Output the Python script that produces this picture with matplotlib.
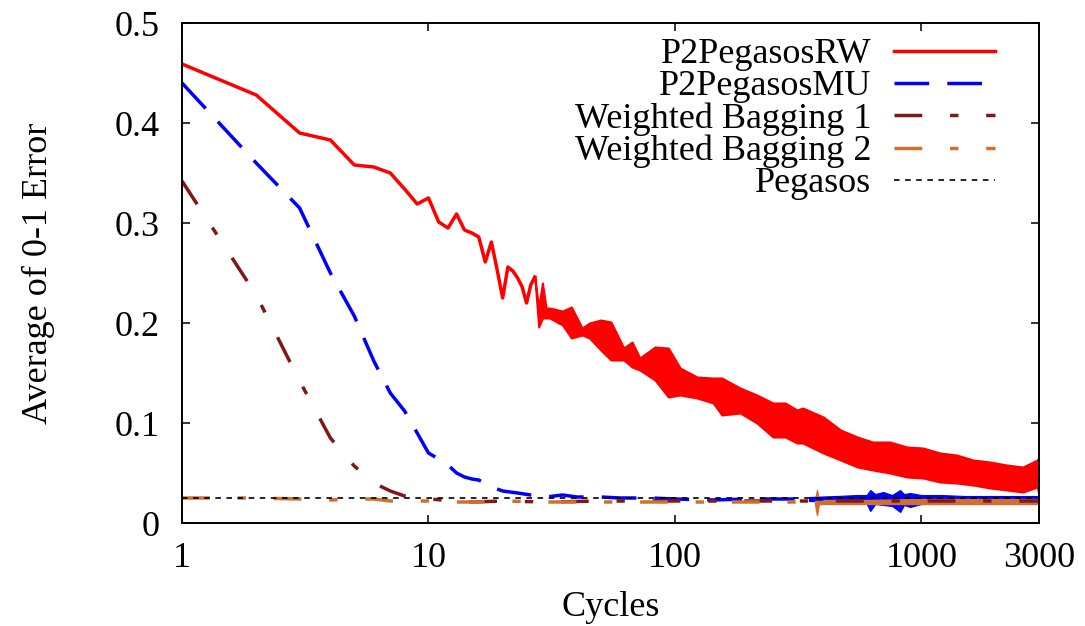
import numpy as np
import matplotlib
matplotlib.use('Agg')
import matplotlib.pyplot as plt
from matplotlib.ticker import FixedLocator, NullLocator

# P2PegasosRW: single curve for the first cycles, then a noisy band (lower/upper edge)
rw_cycles = [1, 2, 3, 4, 5, 6, 7, 8, 9, 10, 11, 12, 13, 14, 15, 16, 17, 18, 19, 20,
             21, 22, 23, 24, 25, 26, 27]
rw_err = [.459, .428, .390, .383, .358, .356, .350, .334, .319, .325, .301, .295, .309,
          .293, .290, .286, .261, .281, .253, .225, .256, .252, .245, .236, .220, .238, .246]
rw_band_cycles = [27, 28, 29, 30, 31, 35, 38, 42, 45, 50, 55, 62, 67, 72, 83, 94, 105, 123,
                  143, 155, 184, 215, 250, 280, 313, 330, 400, 470, 550, 635, 745, 875,
                  1015, 1190, 1390, 1620, 1900, 2220, 2580, 2950, 3000]
rw_band_lo = [.246, .196, .205, .205, .205, .198, .185, .188, .185, .173, .163, .163, .156,
              .153, .143, .126, .128, .125, .120, .108, .110, .100, .086, .086, .080, .080,
              .070, .063, .056, .053, .050, .046, .045, .041, .040, .038, .035, .033, .031,
              .036, .028]
rw_band_hi = [.246, .215, .240, .215, .215, .212, .216, .195, .200, .203, .201, .175, .181,
              .165, .176, .175, .155, .146, .145, .145, .135, .128, .120, .120, .113, .115,
              .106, .093, .086, .081, .081, .076, .075, .070, .068, .063, .061, .058, .056,
              .063, .066]

# P2PegasosMU
mu_cycles = [1, 2, 3, 4, 5, 6, 7, 8, 9, 10, 11, 12, 13, 14, 15, 16, 18, 20, 23, 26, 30,
             35, 40, 50, 60, 80, 100, 140, 200, 300, 400]
mu_err = [.440, .360, .315, .250, .207, .162, .130, .112, .090, .070, .064, .058, .050,
          .046, .044, .043, .036, .032, .030, .028, .026, .028, .026, .026, .025, .025,
          .024, .023, .024, .024, .024]
mu_band_cycles = [350, 450, 550, 600, 620, 650, 700, 760, 820, 850, 900, 1000, 1200, 1500,
                  2000, 2500, 3000]
mu_band_lo = [.022, .021, .020, .019, .012, .019, .018, .017, .011, .018, .016, .019, .019,
              .020, .020, .021, .020]
mu_band_hi = [.026, .027, .028, .028, .033, .029, .031, .028, .033, .029, .030, .028, .028,
              .027, .027, .027, .027]

# Weighted Bagging 1
wb1_cycles = [1, 2, 3, 4, 5, 6, 7, 8, 9, 10, 15, 20, 30, 50, 100, 200, 500, 1000, 3000]
wb1_err = [.342, .228, .142, .085, .057, .040, .032, .027, .025, .024, .021, .022, .021,
           .022, .022, .022, .022, .022, .022]

# Weighted Bagging 2
wb2_cycles = [1, 2, 3, 4, 5, 6, 7, 8, 10, 13, 16, 20, 30, 50, 100, 200, 300, 370]
wb2_err = [.025, .025, .024, .023, .024, .024, .022, .022, .022, .021, .021, .022, .021,
           .021, .021, .021, .021, .021]
wb2_band_cycles = [370, 377, 384, 450, 600, 1000, 2000, 3000]
wb2_band_lo = [.019, .008, .019, .019, .019, .019, .019, .019]
wb2_band_hi = [.023, .033, .023, .023, .023, .024, .024, .024]

# Pegasos
peg_cycles = [1, 3000]
peg_err = [.025, .025]

xticks = [1, 10, 100, 1000, 3000]
xtick_labels = ['1', '10', '100', '1000', '3000']
yticks = [0, 0.1, 0.2, 0.3, 0.4, 0.5]
ytick_labels = ['0', '0.1', '0.2', '0.3', '0.4', '0.5']

plt.rcParams['font.family'] = ['Liberation Serif', 'DejaVu Serif']
plt.rcParams['font.size'] = 26
plt.rcParams['lines.scale_dashes'] = False

c_rw = '#ff0000'
c_mu = '#0000ff'
c_wb1 = '#801818'
c_wb2 = '#d07030'

fig = plt.figure(figsize=(10.85, 6.26), dpi=100)
ax = fig.add_axes([182 / 1085, 1 - 523 / 626, 857 / 1085, 500 / 626])

rw_line, = ax.plot(rw_cycles, rw_err, color=c_rw, lw=2.5, label='P2PegasosRW')
ax.fill_between(rw_band_cycles, rw_band_lo, rw_band_hi, color=c_rw, lw=1.5, ec=c_rw)

mu_line, = ax.plot(mu_cycles, mu_err, color=c_mu, lw=2.5, ls=(0, (25, 13)), label='P2PegasosMU')
ax.fill_between(mu_band_cycles, mu_band_lo, mu_band_hi, color=c_mu, lw=0.8, ec=c_mu)

wb1_line, = ax.plot(wb1_cycles, wb1_err, color=c_wb1, lw=2.5, ls=(0, (20, 20, 6, 20)),
                    label='Weighted Bagging 1')

wb2_line, = ax.plot(wb2_cycles, wb2_err, color=c_wb2, lw=2.5, ls=(0, (20, 20, 6, 20)),
                    label='Weighted Bagging 2')
ax.fill_between(wb2_band_cycles, wb2_band_lo, wb2_band_hi, color=c_wb2, lw=1, ec=c_wb2)

peg_line, = ax.plot(peg_cycles, peg_err, color='black', lw=1.2, ls=(0, (4, 4)), label='Pegasos')

ax.set_xscale('log')
ax.set_xlim(1, 3000)
ax.set_ylim(0, 0.5)
ax.xaxis.set_major_locator(FixedLocator(xticks))
ax.xaxis.set_minor_locator(NullLocator())
ax.set_xticklabels(xtick_labels)
ax.set_yticks(yticks)
ax.set_yticklabels(ytick_labels)
ax.tick_params(direction='in', length=6, width=1.1, top=True, right=True)
ax.tick_params(axis='x', pad=14)
ax.tick_params(axis='y', pad=16)
for s in ax.spines.values():
    s.set_linewidth(1.4)

ax.set_xlabel('Cycles')
ax.set_ylabel('Average of 0-1 Error')
ax.xaxis.set_label_coords(0.5, -0.135)
ax.yaxis.set_label_coords(-0.148, 0.5)

leg = ax.legend(handles=[rw_line, mu_line, wb1_line, wb2_line, peg_line],
                loc='upper right', bbox_to_anchor=(1 - 44 / 857, 1 - 15 / 500),
                frameon=False, markerfirst=False, handlelength=2.8,
                handletextpad=0.62, labelspacing=-0.03, borderpad=0, borderaxespad=0)

fig.savefig('out.png', dpi=100)
